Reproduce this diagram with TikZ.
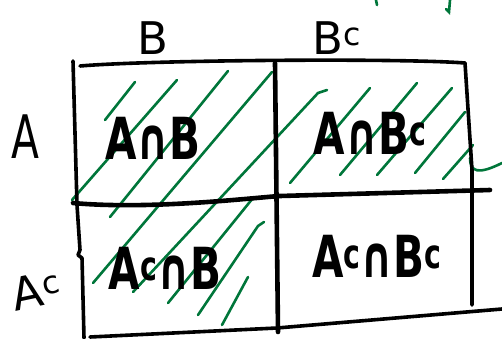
\documentclass[tikz,border=0pt]{standalone}
\usepackage{fontspec}
\setmainfont{DejaVu Sans}
\usepackage{tikz}
\definecolor{hatchgreen}{RGB}{0,118,58}

\begin{document}
\begin{tikzpicture}[x=1pt, y=-1pt,
  grid/.style={line width=3.6pt, line cap=round, line join=round},
  hatch/.style={hatchgreen, line width=2.6pt, line cap=round},
  setlbl/.style={font=\fontsize{45}{45}\selectfont, inner sep=0pt},
  celllbl/.style={font=\fontsize{58}{58}\selectfont\bfseries, xscale=0.7, inner sep=0pt}]
  \useasboundingbox (0,0) rectangle (502,339);
  % hatching of A and B
  \foreach \xa/\ya/\xb/\yb in {105/120/135/82, 72/200/177/80, 110/217/228/71,
                               93/283/272/72, 168/303/253/198, 222/325/248/277,
                               290/183/370/88, 340/175/417/83, 377/175/452/88,
                               415/173/465/112, 443/179/473/145}
    \draw[hatch] (\xa,\ya) -- (\xb,\yb);
  \draw[hatch] (133,292) -- (318,93) -- (327,90);
  \draw[hatch] (198,315) -- (258,226) -- (264,222);
  \draw[hatch] (470,158) .. controls (470,172) and (478,175) .. (502,163);
  % scribbles at the top
  \draw[hatch] (376,0) -- (377,5);
  \draw[hatch] (450,0) -- (449,12) -- (446,9);
  % table
  \draw[grid] (80,66) .. controls (150,60) and (400,58) .. (465,63);
  \draw[grid] (73,61) -- (77,205) -- (80,250) -- (78,255) -- (82,258) -- (84,338);
  \draw[grid, line width=4.6pt] (275,63) -- (278,332);
  \draw[grid] (465,63) -- (472,170) -- (472,305);
  \draw[grid, line width=4.6pt] (73,203) .. controls (150,210) and (250,198) .. (280,196) -- (490,190);
  \draw[grid] (90,337) -- (277,328) -- (502,309);
  % set labels
  \node[setlbl] (lblB) at (153,38) {B};
  \node[setlbl] (lblBc) at (337,38) {B\textsuperscript{c}};
  \node[setlbl, font=\fontsize{60}{60}\selectfont, xscale=0.68] (lblA) at (25,137) {A};
  \node[setlbl, rotate=12] (lblAc) at (36,290) {A\kern1pt\textsuperscript{c}};
  % cells
  \node[celllbl] (cellAB) at (153,138) {A∩B};
  \node[celllbl] (cellABc) at (370,133) {A∩B\textsuperscript{c}};
  \node[celllbl] (cellAcB) at (165,268) {A\textsuperscript{c}∩B};
  \node[celllbl] (cellAcBc) at (377,256) {A\textsuperscript{c}∩B\textsuperscript{c}};
\end{tikzpicture}
\end{document}
